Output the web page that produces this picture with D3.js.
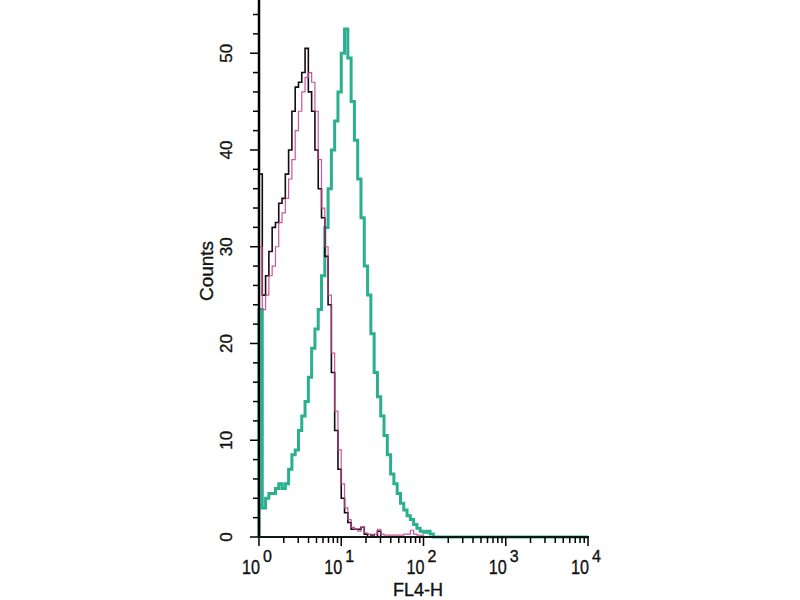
<!DOCTYPE html>
<html>
<head>
<meta charset="utf-8">
<script src="https://cdn.jsdelivr.net/npm/d3@7"></script>
<style>
  body { margin: 0; background: #fff; }
  text { font-family: Arial, "Liberation Sans", sans-serif; fill: #111; stroke: #111; stroke-width: 0.35; }
</style>
</head>
<body>
<script>
// channels : 0.04 decade each, starting at 10^0
const binsPerDecade = 25;

const blackCounts = [37.5, 25, 27, 29.5, 32, 32.5, 34.5, 35, 37.5, 40, 44, 46.5, 47, 48, 50.5, 46,
  44, 40, 36, 33, 29, 24, 17, 11, 7, 4, 2.5, 1.5, 0.8, 0.8, 0.8, 1.0, 0.3, 0, 0.2, 0, 0.6];

const magentaCounts = [30, 23.5, 25, 27, 28, 30, 32.5, 33.5, 35, 37, 39, 42, 44, 46, 47.5, 48,
  47, 44, 39, 34, 30, 25, 19, 13, 9, 5.5, 3, 1.8, 1, 0.8, 0.6, 1.0, 0.4, 0.3, 0.2, 0.3, 0.8, 0.3,
  0.2, 0.2, 0.2, 0.2, 0.2, 0.2, 0.3, 0.3, 0.7, 0.3, 0.2, 0.2];

const tealCounts = [23.5, 3, 4, 4.5, 4.5, 5, 5.5, 5, 5.5, 7, 8.5, 9, 11, 12.5, 14, 16.5, 19.5, 21.5,
  23.5, 27, 32, 36, 40, 43, 46, 50, 52.5, 49.5, 45, 41, 37, 33, 28, 25, 21, 17, 14.5, 12.5, 10.5,
  8.5, 6.5, 5.5, 4.5, 3.5, 2.8, 2.2, 1.8, 1.3, 0.9, 0.6, 0.5, 0.6, 0.3];

const decades = [1, 10, 100, 1000, 10000];
const decadeExp = ["0", "1", "2", "3", "4"];
const yMajor = [0, 10, 20, 30, 40, 50];

const svg = d3.select("body").append("svg")
    .attr("width", 800)
    .attr("height", 600);

const x = d3.scaleLog().domain([1, 1e4]).range([259, 588]);
const y = d3.scaleLinear().domain([0, 55.5]).range([537, 0]);

function points(counts) {
    const pts = [[1, 0]];
    counts.forEach((c, i) => pts.push([Math.pow(10, i / binsPerDecade), c]));
    pts.push([Math.pow(10, counts.length / binsPerDecade), 0]);
    pts.push([1e4, 0]);
    return pts;
}

const line = d3.line()
    .x(d => x(d[0]))
    .y(d => y(d[1]))
    .curve(d3.curveStepAfter);

// courbes
svg.append("path")
    .attr("d", line(points(tealCounts)))
    .attr("fill", "none")
    .attr("stroke", "#2ab08e")
    .attr("stroke-width", 3);

svg.append("path")
    .attr("d", line(points(blackCounts)))
    .attr("fill", "none")
    .attr("stroke", "#150a10")
    .attr("stroke-width", 1.6);

svg.append("path")
    .attr("d", line(points(magentaCounts)))
    .attr("fill", "none")
    .attr("stroke", "#c03a88")
    .attr("stroke-width", 1.2)
    .attr("opacity", 0.85);

// axe Y
const yTicks = d3.range(0, 56, 2);
const gy = svg.append("g").attr("transform", "translate(259,0)");
gy.append("line")
    .attr("x1", 0).attr("x2", 0)
    .attr("y1", 0).attr("y2", 538)
    .attr("stroke", "#000").attr("stroke-width", 2.5);
gy.selectAll("line.tick")
    .data(yTicks)
    .enter().append("line")
    .attr("class", "tick")
    .attr("x1", d => d % 10 === 0 ? -9 : -6)
    .attr("x2", 0)
    .attr("y1", d => y(d)).attr("y2", d => y(d))
    .attr("stroke", "#000").attr("stroke-width", 1.5);

svg.selectAll("text.ylab")
    .data(yMajor)
    .enter().append("text")
    .attr("class", "ylab")
    .attr("transform", d => `translate(232,${y(d)}) rotate(-90)`)
    .attr("text-anchor", "middle")
    .style("font-size", "17px")
    .text(d => d);

svg.append("text")
    .attr("transform", "translate(213,271) rotate(-90)")
    .attr("text-anchor", "middle")
    .style("font-size", "19px")
    .text("Counts");

// axe X
const xTicks = [];
decades.slice(0, 4).forEach(d => d3.range(1, 10).forEach(k => xTicks.push(d * k)));
xTicks.push(1e4);

const gx = svg.append("g").attr("transform", "translate(0,537)");
gx.append("line")
    .attr("x1", 258).attr("x2", 589)
    .attr("y1", 0).attr("y2", 0)
    .attr("stroke", "#0d1a14").attr("stroke-width", 2);
gx.selectAll("line.tick")
    .data(xTicks)
    .enter().append("line")
    .attr("class", "tick")
    .attr("x1", d => x(d)).attr("x2", d => x(d))
    .attr("y1", 0)
    .attr("y2", d => decades.includes(d) ? 9 : 6)
    .attr("stroke", "#000").attr("stroke-width", 1.5);

const xl = svg.selectAll("text.xlab")
    .data(decades)
    .enter().append("text")
    .attr("class", "xlab")
    .attr("x", d => x(d) - 17)
    .attr("y", 574);
xl.append("tspan")
    .attr("textLength", 18)
    .attr("lengthAdjust", "spacingAndGlyphs")
    .style("font-size", "20px")
    .text("10");
xl.append("tspan")
    .attr("dx", 3)
    .attr("dy", -12)
    .style("font-size", "16px")
    .text((d, i) => decadeExp[i]);

svg.append("text")
    .attr("x", 418)
    .attr("y", 596)
    .attr("text-anchor", "middle")
    .style("font-size", "18px")
    .text("FL4-H");
</script>
</body>
</html>
